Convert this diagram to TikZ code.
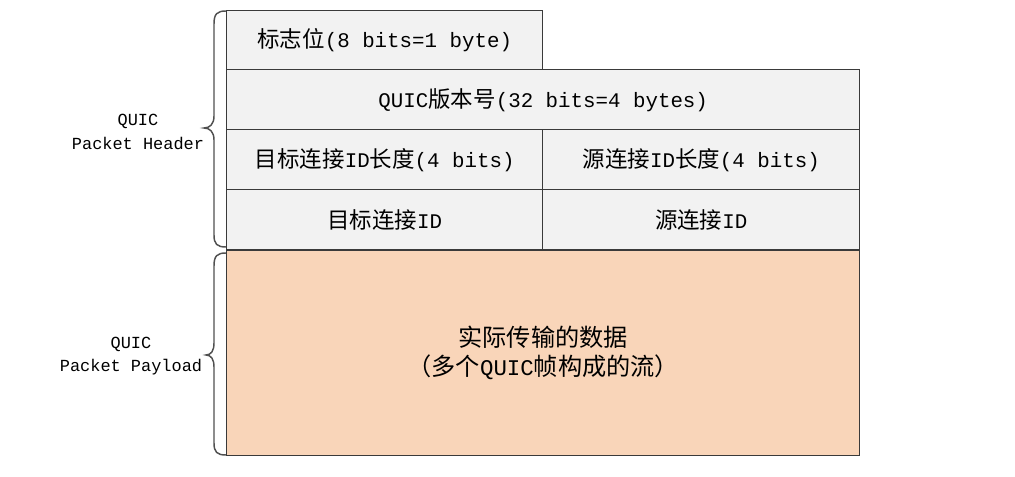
\documentclass[tikz,border=0pt]{standalone}
\usepackage{fontspec}
\setmainfont{Liberation Mono}
\newfontfamily\cjk[Scale=1.08]{Noto Sans CJK SC}
\newcommand\zh[1]{{\cjk #1}}
\definecolor{cellgray}{HTML}{F2F2F2}
\definecolor{peach}{HTML}{F9D5B9}
\definecolor{edge}{HTML}{3A3A3A}
\definecolor{bracecol}{HTML}{505050}
\def\u{0.75pt}
\tikzset{
  cell/.style={draw=edge, line width=1.1pt, fill=cellgray, anchor=north west, inner sep=0pt,
    font=\fontsize{15.6pt}{18pt}\selectfont, text=black},
  pay/.style={cell, fill=peach, align=center, font=\fontsize{16.8pt}{21.75pt}\selectfont},
  lbl/.style={align=center, font=\fontsize{12.7pt}{17.5pt}\selectfont, text=black},
  bracepath/.style={draw=bracecol, line width=1.1pt}
}
\begin{document}
\begin{tikzpicture}[x=0.75pt,y=-0.75pt]
\useasboundingbox (0,0) rectangle (1015,477);
\node[cell, minimum width=316*\u, minimum height=59*\u] (flag) at (226,10) {\zh{标志位}(8 bits=1 byte)};
\node[cell, minimum width=633*\u, minimum height=60*\u] (ver) at (226,69) {QUIC\zh{版本号}(32 bits=4 bytes)};
\node[cell, minimum width=316*\u, minimum height=60*\u] (dlen) at (226,129) {\zh{目标连接}ID\zh{长度}(4 bits)};
\node[cell, minimum width=317*\u, minimum height=60*\u] (slen) at (542,129) {\zh{源连接}ID\zh{长度}(4 bits)};
\node[cell, minimum width=316*\u, minimum height=60*\u] (dcid) at (226,189) {\zh{目标连接}ID};
\node[cell, minimum width=317*\u, minimum height=60*\u] (scid) at (542,189) {\zh{源连接}ID};
\node[pay, minimum width=633*\u, minimum height=205*\u] (payload) at (226,250) {\zh{实际传输的数据}\\\zh{（多个}QUIC\zh{帧构成的流）}};

\coordinate (ht) at (226,11);
\coordinate (hb) at (226,247);
\coordinate (pt) at (226,253);
\coordinate (pb) at (226,455);
\draw[bracepath] (ht) .. controls (217,11) and (214,14) .. (214,24) -- (214,116)
  .. controls (214,124) and (210,128) .. (204,128)
  .. controls (210,128) and (214,132) .. (214,140) -- (214,235)
  .. controls (214,244) and (217,247) .. (hb);
\draw[bracepath] (pt) .. controls (217,253) and (214,256) .. (214,266) -- (214,343)
  .. controls (214,351) and (211,355) .. (206,355)
  .. controls (211,355) and (214,359) .. (214,367) -- (214,443)
  .. controls (214,452) and (217,455) .. (pb);

\node[lbl] (hlabel) at (138,132) {QUIC\\Packet Header};
\node[lbl] (plabel) at (131,356) {QUIC\\Packet Payload};
\end{tikzpicture}
\end{document}
